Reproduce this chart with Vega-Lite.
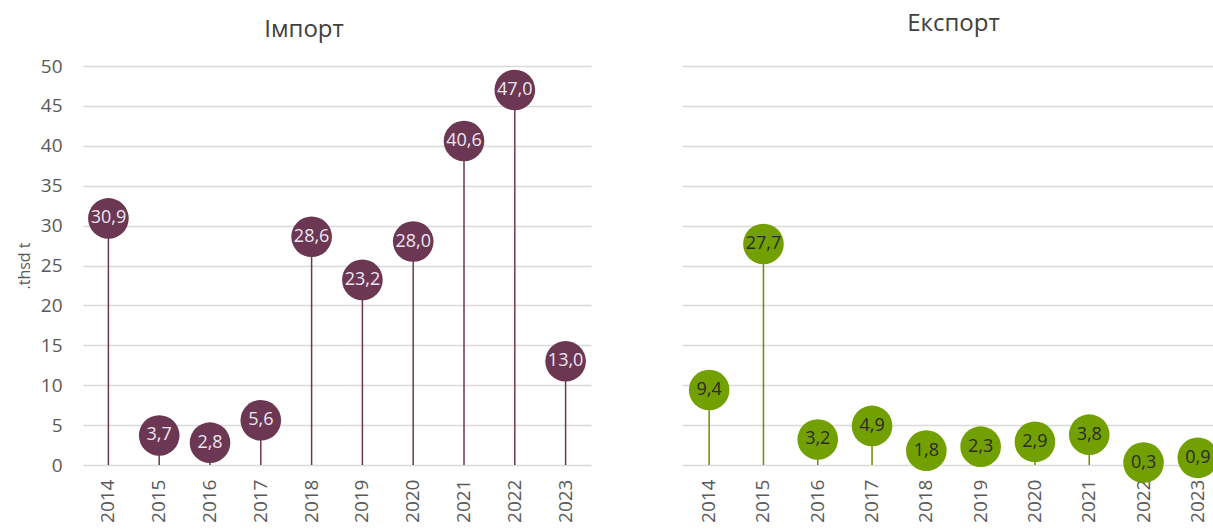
{
  "$schema": "https://vega.github.io/schema/vega-lite/v6.json",
  "padding": {"left": 16, "top": 12, "right": 0, "bottom": 0},
  "background": "white",
  "spacing": 91,
  "config": {
    "font": "Open Sans",
    "view": {"stroke": null},
    "locale": {"number": {"decimal": ",", "thousands": " ", "grouping": [3], "currency": ["", ""]}},
    "axis": {"labelFont": "Open Sans", "labelColor": "#595959", "labelFontSize": 19, "titleFont": "Open Sans", "titleColor": "#595959", "titleFontWeight": "normal", "titleFontSize": 16},
    "title": {"font": "Open Sans", "fontSize": 24, "fontWeight": "normal", "color": "#404040"}
  },
  "datasets": {
    "imp": [
      {"year": "2014", "value": 30.9}, {"year": "2015", "value": 3.7}, {"year": "2016", "value": 2.8},
      {"year": "2017", "value": 5.6}, {"year": "2018", "value": 28.6}, {"year": "2019", "value": 23.2},
      {"year": "2020", "value": 28.0}, {"year": "2021", "value": 40.6}, {"year": "2022", "value": 47.0},
      {"year": "2023", "value": 13.0}
    ],
    "exp": [
      {"year": "2014", "value": 9.4}, {"year": "2015", "value": 27.7}, {"year": "2016", "value": 3.2},
      {"year": "2017", "value": 4.9}, {"year": "2018", "value": 1.8}, {"year": "2019", "value": 2.3},
      {"year": "2020", "value": 2.9}, {"year": "2021", "value": 3.8}, {"year": "2022", "value": 0.3},
      {"year": "2023", "value": 0.9}
    ]
  },
  "hconcat": [
    {
      "title": {"text": "Імпорт", "dx": -33, "offset": 15},
      "width": 508,
      "height": 399,
      "data": {"name": "imp"},
      "encoding": {
        "x": {"field": "year", "type": "ordinal", "title": null, "scale": {"paddingInner": 0, "paddingOuter": 0},
              "axis": {"labelAngle": -90, "labelPadding": 14, "ticks": false, "domain": false}},
        "y": {"field": "value", "type": "quantitative", "title": ".thsd t",
              "scale": {"domain": [0, 50], "nice": false},
              "axis": {"values": [0,5,10,15,20,25,30,35,40,45,50], "ticks": false, "domain": false, "gridColor": "#d9d9d9", "gridWidth": 1.5, "labelPadding": 21, "titlePadding": 8}}
      },
      "layer": [
        {"mark": {"type": "rule", "color": "#6c3752", "strokeWidth": 1.5}, "encoding": {"y2": {"datum": 0}}},
        {"mark": {"type": "circle", "color": "#6c3752", "opacity": 1, "size": 1650}},
        {"mark": {"type": "text", "color": "#ece6f2", "fontSize": 18}, "encoding": {"text": {"field": "value", "type": "quantitative", "format": ".1f"}}}
      ]
    },
    {
      "title": {"text": "Експорт", "offset": 30},
      "width": 543,
      "height": 399,
      "data": {"name": "exp"},
      "encoding": {
        "x": {"field": "year", "type": "ordinal", "title": null, "scale": {"paddingInner": 0, "paddingOuter": 0},
              "axis": {"labelAngle": -90, "labelPadding": 14, "ticks": false, "domain": false}},
        "y": {"field": "value", "type": "quantitative", "title": null,
              "scale": {"domain": [0, 50], "nice": false},
              "axis": {"values": [0,5,10,15,20,25,30,35,40,45,50], "labels": false, "ticks": false, "domain": false, "gridColor": "#d9d9d9", "gridWidth": 1.5}}
      },
      "layer": [
        {"mark": {"type": "rule", "color": "#6a9000", "strokeWidth": 1.5}, "encoding": {"y2": {"datum": 0}}},
        {"mark": {"type": "circle", "color": "#72a000", "opacity": 1, "size": 1650}},
        {"mark": {"type": "text", "color": "#2b2b2b", "fontSize": 18}, "encoding": {"text": {"field": "value", "type": "quantitative", "format": ".1f"}}}
      ]
    }
  ]
}
